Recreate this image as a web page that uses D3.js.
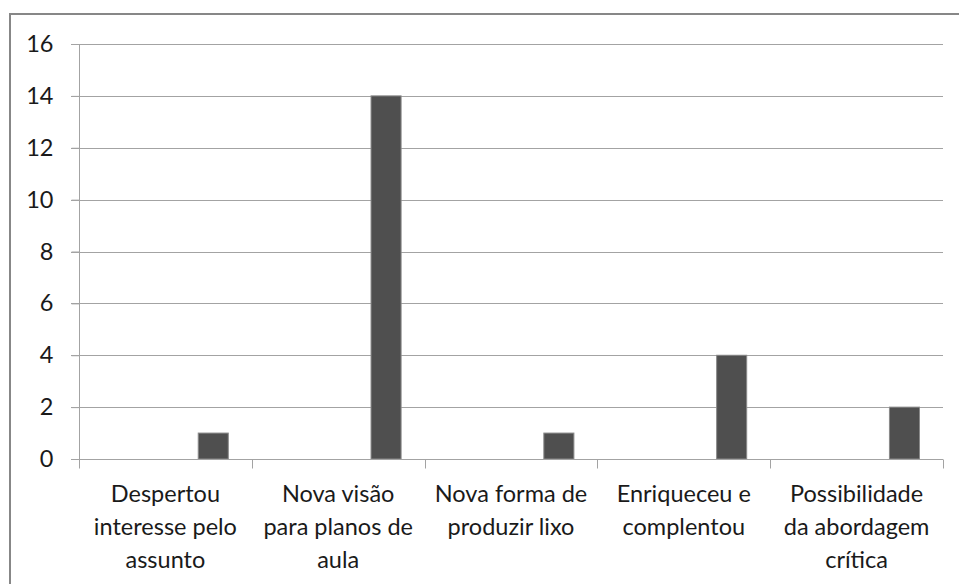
<!DOCTYPE html>
<html>
<head>
<meta charset="utf-8">
<script src="https://cdn.jsdelivr.net/npm/d3@7"></script>
<style>
  html, body { margin: 0; padding: 0; background: #fff; }
  svg { display: block; }
  text { font-family: Lato, "Open Sans", sans-serif; fill: #1a1a1a; }
</style>
</head>
<body>
<svg id="chart" width="959" height="584"></svg>
<script>
const categories = [
  "Despertou interesse pelo assunto",
  "Nova visão para planos de aula",
  "Nova forma de produzir lixo",
  "Enriqueceu e complentou",
  "Possibilidade da abordagem crítica"
];
const categoryLines = [
  ["Despertou", "interesse pelo", "assunto"],
  ["Nova visão", "para planos de", "aula"],
  ["Nova forma de", "produzir lixo"],
  ["Enriqueceu e", "complentou"],
  ["Possibilidade", "da abordagem", "crítica"]
];
const values = [1, 14, 1, 4, 2];
const yTicks = [0, 2, 4, 6, 8, 10, 12, 14, 16];

(function () {
const svg = d3.select("#chart");
const pLeft = 79, pRight = 943, pTop = 44, pBottom = 459;
const fontSize = 23.5;

// outer border (right and bottom edges fall outside the picture)
svg.append("rect")
  .attr("x", 10).attr("y", 14)
  .attr("width", 1000).attr("height", 700)
  .attr("fill", "none").attr("stroke", "#878787").attr("stroke-width", 2);

const x = d3.scaleBand().domain(categories).range([pLeft, pRight]).padding(0);
const y = d3.scaleLinear().domain([0, 16]).range([pBottom, pTop]);

// gridlines
svg.append("g").selectAll("line").data(yTicks.filter(d => d > 0)).join("line")
  .attr("x1", pLeft - 8).attr("x2", pRight)
  .attr("y1", d => Math.round(y(d)) + 0.5).attr("y2", d => Math.round(y(d)) + 0.5)
  .attr("stroke", "#a3a3a3").attr("stroke-width", 1);

// y axis
const yAxis = svg.append("g").attr("transform", `translate(${pLeft + 0.5},0)`)
  .call(d3.axisLeft(y).tickValues(yTicks).tickSize(8).tickPadding(18).tickFormat(d3.format("d")));
yAxis.select(".domain").attr("stroke", "#a3a3a3").attr("d", `M0,${pTop}V${pBottom}`);
yAxis.selectAll(".tick line").attr("stroke", "#a3a3a3");
yAxis.selectAll(".tick text").attr("font-size", fontSize).attr("fill", "#1a1a1a")
  .attr("font-family", "Lato, 'Open Sans', sans-serif");

// bars
const bw = x.bandwidth();
svg.append("g").selectAll("rect").data(values).join("rect")
  .attr("x", (d, i) => x(categories[i]) + bw * 0.69)
  .attr("width", bw * 0.174)
  .attr("y", d => y(d))
  .attr("height", d => y(0) - y(d))
  .attr("fill", "#4f4f4f")
  .attr("stroke", "#8a8a8a").attr("stroke-width", 1);

// x axis
const xAxisG = svg.append("g").attr("transform", `translate(0,${Math.round(pBottom) + 0.5})`);
xAxisG.append("line").attr("x1", pLeft - 8).attr("x2", pRight)
  .attr("stroke", "#a3a3a3");
const bounds = categories.map(c => x(c)).concat([pRight]);
xAxisG.selectAll("line.tk").data(bounds).join("line").attr("class", "tk")
  .attr("x1", d => Math.round(d) + 0.5).attr("x2", d => Math.round(d) + 0.5)
  .attr("y1", 0).attr("y2", 9).attr("stroke", "#a3a3a3");

// category labels
const lab = svg.append("g");
categories.forEach((c, i) => {
  const t = lab.append("text")
    .attr("x", x(c) + bw / 2)
    .attr("y", 502)
    .attr("text-anchor", "middle")
    .attr("font-size", fontSize);
  categoryLines[i].forEach((ln, k) => {
    t.append("tspan").attr("x", x(c) + bw / 2).attr("dy", k === 0 ? 0 : 33).text(ln);
  });
});
})();
</script>
</body>
</html>
